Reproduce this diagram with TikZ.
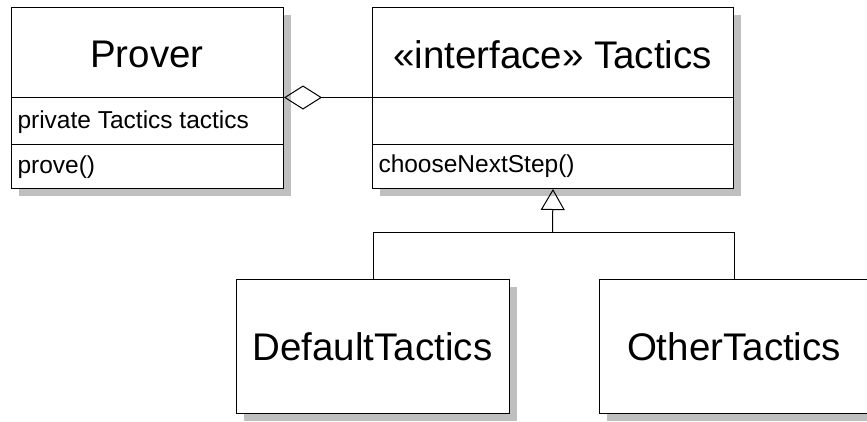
\documentclass[tikz,border=0pt]{standalone}
\usepackage{fontspec}
\setmainfont{Liberation Sans}
\usetikzlibrary{arrows.meta,shadows}

\begin{document}
\begin{tikzpicture}[x=1pt, y=-1pt, line width=1pt,
        cls/.style={draw, fill=white, inner sep=0, anchor=north west,
            drop shadow={shadow xshift=7pt, shadow yshift=-7pt, fill=black!25, opacity=1}},
        big/.style={inner sep=0, font=\fontsize{38.5}{46}\selectfont},
        small/.style={inner sep=0, anchor=base west, font=\fontsize{24.5}{29}\selectfont}]
        \useasboundingbox (0,0) rectangle (867,421);
        \fill[white] (0,0) rectangle (867,421);

        \node[cls, minimum width=272pt, minimum height=181pt] (C1) at (11, 7) {};
        \node[cls, minimum width=361pt, minimum height=181pt] (C2) at (372, 7) {};
        \node[cls, minimum width=273pt, minimum height=134pt] (C3) at (236, 279) {};
        \node[cls, minimum width=270pt, minimum height=134pt] (C4) at (599, 279) {};

        \draw (C1.west |- 0,97.5) -- (C1.east |- 0,97.5);
        \draw (C1.west |- 0,144.5) -- (C1.east |- 0,144.5);
        \draw (C2.west |- 0,97.5) -- (C2.east |- 0,97.5);
        \draw (C2.west |- 0,144.5) -- (C2.east |- 0,144.5);

        \node[big] (N1) at (147, 54) {Prover};
        \node[big] (N2) at (552.5, 55) {«interface» Tactics};
        \node[big] (N3) at (372.5, 347) {DefaultTactics};
        \node[big] (N4) at (734, 347) {OtherTactics};

        \node[small] (F1) at (17, 128) {private Tactics tactics};
        \node[small] (M1) at (17, 173) {prove()};
        \node[small] (M2) at (378, 172) {chooseNextStep()};

        \coordinate (J) at (552.5, 232.5);
        \draw[-{Diamond[open, length=38pt, width=24pt]}] (C2.west |- 0,97.5) -- (C1.east |- 0,97.5);
        \draw[-{Triangle[open, length=21pt, width=24pt]}] (J) -- (C2.south);
        \draw (C3.north) |- (J);
        \draw (J) -| (C4.north);
    \end{tikzpicture}
\end{document}
